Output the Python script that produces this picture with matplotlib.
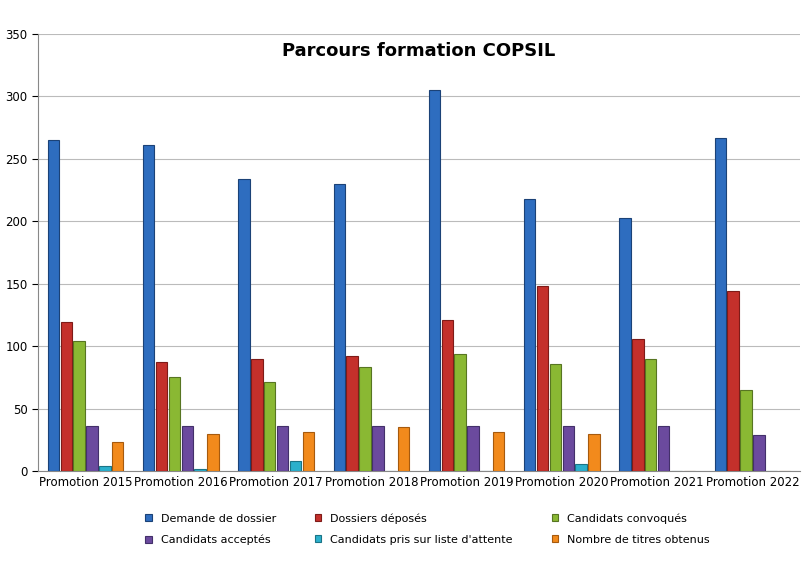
import matplotlib.pyplot as plt
import numpy as np

categories = ["Promotion 2015","Promotion 2016","Promotion 2017","Promotion 2018",
              "Promotion 2019","Promotion 2020","Promotion 2021","Promotion 2022"]
demande = [265, 261, 234, 230, 305, 218, 203, 267]
deposes = [119, 87, 90, 92, 121, 148, 106, 144]
convoques = [104, 75, 71, 83, 94, 86, 90, 65]
acceptes = [36, 36, 36, 36, 36, 36, 36, 29]
liste = [4, 2, 8, 0, 0, 6, 0, 0]
titres = [23, 30, 31, 35, 31, 30, 0, 0]
series_names = ["Demande de dossier","Dossiers déposés","Candidats convoqués",
                "Candidats acceptés","Candidats pris sur liste d'attente","Nombre de titres obtenus"]
series = [demande, deposes, convoques, acceptes, liste, titres]
colors = ["#2E6DBF","#C4302B","#8AB833","#6B4A9E","#2BB0CC","#F28A1C"]
edges = ["#1B4277","#7E1B18","#577522","#43306A","#1B7486","#A65A0E"]

fig = plt.figure(figsize=(8.08,5.71), dpi=100)
ax = fig.add_axes([38/808, 1-471/571, 762/808, 437/571])
x = np.arange(len(categories))
step, w = 0.135, 0.12
handles = []
for i,(s,c,e,n) in enumerate(zip(series,colors,edges,series_names)):
    h = ax.bar(x+(i-2.5)*step, s, width=w, color=c, edgecolor=e, linewidth=0.8, label=n, zorder=3)
    handles.append(h)
ax.set_xlim(-0.5, len(categories)-0.5)
ax.set_ylim(0,350)
ax.set_yticks(range(0,351,50))
ax.yaxis.grid(True, color="#BBBBBB", linewidth=0.8, zorder=0)
ax.set_xticks(x)
ax.set_xticklabels(categories, fontsize=8.5)
ax.tick_params(axis='y', labelsize=8.5, length=4)
ax.tick_params(axis='x', length=0)
for sp in ["top","right"]:
    ax.spines[sp].set_visible(False)
ax.spines["left"].set_color("#888888")
ax.spines["bottom"].set_color("#888888")
ax.text(0.5, 0.96, "Parcours formation COPSIL", transform=ax.transAxes, ha="center",
        va="center", fontsize=13, fontweight="bold")
order = [0, 3, 1, 4, 2, 5]
fig.legend([handles[i] for i in order], [series_names[i] for i in order],
           loc="upper left", bbox_to_anchor=(135/808, 1-503/571), ncol=3, frameon=False,
           fontsize=8, handlelength=0.6, handleheight=0.6, columnspacing=3.5, labelspacing=1.0)
fig.savefig("out.png", dpi=100)
